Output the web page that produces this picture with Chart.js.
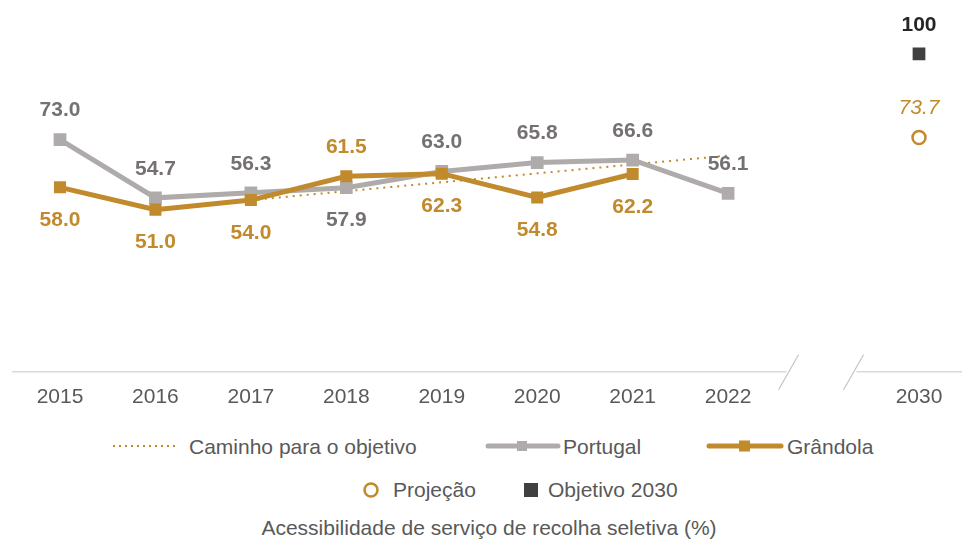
<!DOCTYPE html>
<html>
<head>
<meta charset="utf-8">
<script src="https://cdn.jsdelivr.net/npm/chart.js@4.4.1/dist/chart.umd.min.js"></script>
<style>
  body { margin: 0; background: #fff; font-family: "Liberation Sans", Arial, sans-serif; }
  #wrap { position: relative; width: 962px; height: 543px; overflow: hidden; }
  #chartBox { position: absolute; left: 0; top: 0; width: 962px; height: 434px; }
  .lg { position: absolute; font-size: 21px; line-height: 24px; color: #595959; white-space: nowrap; }
  .ic { position: absolute; }
</style>
</head>
<body>
<div id="wrap">
  <div id="chartBox"><canvas id="recolhaChart"></canvas></div>

  <svg class="ic" style="left:110px;top:440px" width="70" height="12">
    <line x1="3" y1="6" x2="68" y2="6" stroke="#c18a2c" stroke-width="2" stroke-dasharray="2,4"/>
  </svg>
  <div class="lg" style="left:189px;top:435px">Caminho para o objetivo</div>

  <svg class="ic" style="left:484px;top:438px" width="78" height="16">
    <line x1="4" y1="8" x2="74" y2="8" stroke="#b0abab" stroke-width="5" stroke-linecap="round"/>
    <rect x="33" y="3" width="10" height="10" fill="#b0abab"/>
  </svg>
  <div class="lg" style="left:563px;top:435px">Portugal</div>

  <svg class="ic" style="left:705px;top:438px" width="80" height="16">
    <line x1="4" y1="8" x2="76" y2="8" stroke="#c18a2c" stroke-width="5" stroke-linecap="round"/>
    <rect x="34" y="2.5" width="11" height="11" fill="#c18a2c"/>
  </svg>
  <div class="lg" style="left:787px;top:435px">Grândola</div>

  <svg class="ic" style="left:361px;top:480px" width="20" height="20">
    <circle cx="10" cy="10" r="6.5" fill="#fff" stroke="#c18a2c" stroke-width="2.5"/>
  </svg>
  <div class="lg" style="left:393px;top:478px">Projeção</div>

  <svg class="ic" style="left:522px;top:481px" width="18" height="18">
    <rect x="2" y="2" width="14" height="14" fill="#404040"/>
  </svg>
  <div class="lg" style="left:548px;top:478px">Objetivo 2030</div>

  <div class="lg" style="left:0;width:978px;text-align:center;top:516px">Acessibilidade de serviço de recolha seletiva (%)</div>
</div>

<script>
const years = ['2015', '2016', '2017', '2018', '2019', '2020', '2021', '2022', '', '2030'];
const portugal = [73.0, 54.7, 56.3, 57.9, 63.0, 65.8, 66.6, 56.1, null, null];
const grandola = [58.0, 51.0, 54.0, 61.5, 62.3, 54.8, 62.2, null, null, null];
const caminho = [null, null, 54.0, 56.8, 59.6, 62.4, 65.2, 68.0, null, null];
const projecao = [null, null, null, null, null, null, null, null, null, 73.7];
const objetivo = [null, null, null, null, null, null, null, null, null, 100];

const GOLD = '#c18a2c';
const GREY = '#b0abab';

// value labels, drawn above or below each point
const valueLabels = {
    id: 'valueLabels',
    afterDatasetsDraw(chart) {
        const ctx = chart.ctx;
        chart.data.datasets.forEach((ds, i) => {
            if (!ds.labelStyle) return;
            const meta = chart.getDatasetMeta(i);
            ctx.save();
            ctx.font = ds.labelStyle.font;
            ctx.fillStyle = ds.labelStyle.color;
            ctx.textAlign = 'center';
            ctx.textBaseline = 'middle';
            meta.data.forEach((pt, j) => {
                const v = ds.data[j];
                if (v === null || v === undefined) return;
                const pos = ds.labelPos ? ds.labelPos[j] : 'top';
                const y = pos === 'top' ? pt.y - 29 : pt.y + 33;
                const txt = ds.labelStyle.decimals === 0 ? String(Math.round(v)) : v.toFixed(1);
                ctx.fillText(txt, pt.x, y);
            });
            ctx.restore();
        });
    }
};

// x axis line with a break between 2022 and 2030
const brokenAxis = {
    id: 'brokenAxis',
    beforeDatasetsDraw(chart) {
        const ctx = chart.ctx;
        const x = chart.scales.x;
        const y0 = chart.scales.y.getPixelForValue(0);
        const gap = x.getPixelForValue(8);
        ctx.save();
        ctx.strokeStyle = '#d9d9d9';
        ctx.lineWidth = 1.5;
        ctx.beginPath();
        ctx.moveTo(12, y0);
        ctx.lineTo(gap - 37, y0);
        ctx.moveTo(gap + 33, y0);
        ctx.lineTo(chart.width, y0);
        ctx.stroke();
        ctx.strokeStyle = '#c4c4c4';
        ctx.lineWidth = 1.2;
        [-35, 30].forEach(d => {
            ctx.beginPath();
            ctx.moveTo(gap + d - 10, y0 + 18);
            ctx.lineTo(gap + d + 10, y0 - 17);
            ctx.stroke();
        });
        ctx.restore();
    }
};

new Chart(document.getElementById('recolhaChart'), {
    type: 'line',
    data: {
        labels: years,
        datasets: [
            {
                label: 'Grândola',
                data: grandola,
                borderColor: GOLD,
                backgroundColor: GOLD,
                borderWidth: 5,
                pointStyle: 'rect',
                pointRadius: 8.5,
                pointBorderWidth: 0,
                tension: 0,
                labelPos: ['bottom', 'bottom', 'bottom', 'top', 'bottom', 'bottom', 'bottom'],
                labelStyle: { font: 'bold 21px "Liberation Sans", Arial', color: GOLD }
            },
            {
                label: 'Portugal',
                data: portugal,
                borderColor: GREY,
                backgroundColor: GREY,
                borderWidth: 5,
                pointStyle: 'rect',
                pointRadius: 9,
                pointBorderWidth: 0,
                tension: 0,
                labelPos: ['top', 'top', 'top', 'bottom', 'top', 'top', 'top', 'top'],
                labelStyle: { font: 'bold 21px "Liberation Sans", Arial', color: '#767171' }
            },
            {
                label: 'Caminho para o objetivo',
                data: caminho,
                borderColor: GOLD,
                borderWidth: 2,
                borderDash: [2, 5],
                pointRadius: 0,
                tension: 0
            },
            {
                label: 'Projeção',
                data: projecao,
                showLine: false,
                pointStyle: 'circle',
                pointRadius: 6.5,
                pointBorderWidth: 2.5,
                borderColor: GOLD,
                pointBorderColor: GOLD,
                pointBackgroundColor: '#fff',
                labelStyle: { font: 'italic 21px "Liberation Sans", Arial', color: GOLD }
            },
            {
                label: 'Objetivo 2030',
                data: objetivo,
                showLine: false,
                pointStyle: 'rect',
                pointRadius: 9,
                pointBorderWidth: 0,
                pointBackgroundColor: '#404040',
                labelStyle: { font: 'bold 21px "Liberation Sans", Arial', color: '#262626', decimals: 0 }
            }
        ]
    },
    options: {
        responsive: true,
        maintainAspectRatio: false,
        animation: false,
        layout: { padding: { left: 60, right: 43, top: 22, bottom: 11 } },
        plugins: {
            legend: { display: false },
            tooltip: { enabled: false }
        },
        scales: {
            x: {
                offset: false,
                grid: { display: false, drawTicks: false },
                border: { display: false },
                ticks: {
                    autoSkip: false,
                    maxRotation: 0,
                    padding: 13,
                    color: '#595959',
                    font: { family: '"Liberation Sans", Arial', size: 21 }
                }
            },
            y: {
                display: false,
                min: 0,
                max: 110
            }
        }
    },
    plugins: [brokenAxis, valueLabels]
});
</script>
</body>
</html>
